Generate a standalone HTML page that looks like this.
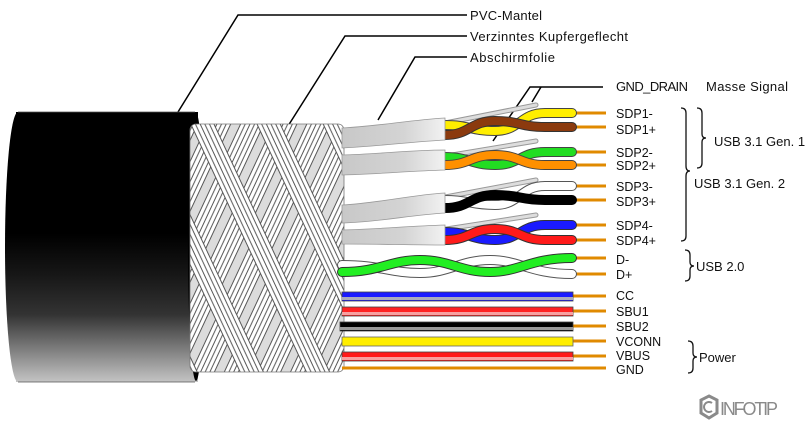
<!DOCTYPE html>
<html><head><meta charset="utf-8"><style>
html,body{margin:0;padding:0;background:#fff}
svg{display:block}
text{font-family:"Liberation Sans Narrow","Liberation Sans",sans-serif;fill:#111}
</style></head><body>
<svg width="810" height="422" viewBox="0 0 810 422" xmlns="http://www.w3.org/2000/svg">
<defs>
<linearGradient id="jk" x1="0" y1="0" x2="0" y2="1">
<stop offset="0" stop-color="#000"/><stop offset="0.45" stop-color="#000"/><stop offset="0.6" stop-color="#161616"/><stop offset="0.75" stop-color="#333"/><stop offset="1" stop-color="#c4c4c4"/></linearGradient>
<linearGradient id="foil" x1="0" y1="0" x2="1" y2="0">
<stop offset="0" stop-color="#c8c8c8"/><stop offset="0.6" stop-color="#d4d4d4"/><stop offset="1" stop-color="#f2f2f2"/></linearGradient>
<pattern id="bA" width="30" height="30" patternUnits="userSpaceOnUse" patternTransform="rotate(25)">
<rect x="0" y="0" width="22" height="30" fill="#fff"/>
<g stroke="#444" stroke-width="0.9"><line x1="0.5" y1="0" x2="0.5" y2="30"/><line x1="4.7" y1="0" x2="4.7" y2="30"/><line x1="9" y1="0" x2="9" y2="30"/><line x1="13.2" y1="0" x2="13.2" y2="30"/><line x1="17.4" y1="0" x2="17.4" y2="30"/><line x1="21.5" y1="0" x2="21.5" y2="30"/></g>
</pattern>
<pattern id="bB" width="60" height="30" patternUnits="userSpaceOnUse" patternTransform="rotate(-25)">
<rect x="0" y="0" width="22" height="30" fill="#fff"/>
<g stroke="#444" stroke-width="0.9"><line x1="0.5" y1="0" x2="0.5" y2="30"/><line x1="4.7" y1="0" x2="4.7" y2="30"/><line x1="9" y1="0" x2="9" y2="30"/><line x1="13.2" y1="0" x2="13.2" y2="30"/><line x1="17.4" y1="0" x2="17.4" y2="30"/><line x1="21.5" y1="0" x2="21.5" y2="30"/></g>
</pattern>
<clipPath id="bc"><rect x="190" y="124" width="154" height="248" rx="6"/></clipPath>
</defs>

<g stroke="#000" stroke-width="1.5" fill="none">
<polyline points="178,112 238,15 467,15"/>
<polyline points="288,126 345,36 467,36"/>
<polyline points="378,120 415,57 467,57"/>
<polyline points="493,141 530,87 603,87"/>
<line x1="532" y1="102" x2="541" y2="87"/>
</g>

<rect x="16" y="112" width="182" height="270" fill="url(#jk)"/>
<ellipse cx="18" cy="247" rx="13" ry="135" fill="url(#jk)"/>
<path d="M18,112 L195,112 M18,382 L195,382" stroke="#555" stroke-width="0.8"/>
<ellipse cx="196" cy="247" rx="8" ry="134" fill="#000"/>

<g clip-path="url(#bc)">
<rect x="185" y="120" width="165" height="260" fill="#dcdcdc"/>
<rect x="185" y="120" width="165" height="260" fill="url(#bA)"/>
<rect x="185" y="120" width="165" height="260" fill="url(#bB)"/>
</g>
<rect x="190" y="124" width="154" height="248" rx="6" fill="none" stroke="#777" stroke-width="0.8"/>

<g stroke="#999" stroke-width="5" stroke-linecap="round"><line x1="440" y1="124" x2="536" y2="105"/><line x1="440" y1="157" x2="536" y2="141"/><line x1="440" y1="198" x2="536" y2="180"/><line x1="440" y1="230" x2="536" y2="215"/></g>
<g stroke="#ddd" stroke-width="3" stroke-linecap="round"><line x1="440" y1="124" x2="536" y2="105"/><line x1="440" y1="157" x2="536" y2="141"/><line x1="440" y1="198" x2="536" y2="180"/><line x1="440" y1="230" x2="536" y2="215"/></g>

<g stroke="#e08a00" stroke-width="3">
<line x1="570" y1="113" x2="606" y2="113"/><line x1="570" y1="127" x2="606" y2="127"/>
<line x1="570" y1="152" x2="606" y2="152"/><line x1="570" y1="165" x2="606" y2="165"/>
<line x1="570" y1="186" x2="606" y2="186"/><line x1="570" y1="200" x2="606" y2="200"/>
<line x1="570" y1="225" x2="606" y2="225"/><line x1="570" y1="240" x2="606" y2="240"/>
<line x1="570" y1="258" x2="606" y2="258"/><line x1="570" y1="274" x2="606" y2="274"/>
<line x1="570" y1="296" x2="606" y2="296"/><line x1="570" y1="311" x2="606" y2="311"/>
<line x1="570" y1="326" x2="606" y2="326"/><line x1="570" y1="341" x2="606" y2="341"/>
<line x1="570" y1="356" x2="606" y2="356"/><line x1="342" y1="368" x2="606" y2="368"/>
</g>

<g fill="none" stroke-linecap="round">
<path d="M445,125 C470,125 470,131 495,131 C520,131 520,113 545,113 L572,113" stroke="#444" stroke-width="10"/>
<path d="M445,125 C470,125 470,131 495,131 C520,131 520,113 545,113 L572,113" stroke="#ffee00" stroke-width="8"/>
<path d="M445,135 C470,135 470,121 495,121 C520,121 520,127 545,127 L572,127" stroke="#333" stroke-width="10"/>
<path d="M445,135 C470,135 470,121 495,121 C520,121 520,127 545,127 L572,127" stroke="#8b3a0e" stroke-width="8"/>
<path d="M445,157 C470,157 470,165 495,165 C520,165 520,152 545,152 L572,152" stroke="#444" stroke-width="10"/>
<path d="M445,157 C470,157 470,165 495,165 C520,165 520,152 545,152 L572,152" stroke="#22dd22" stroke-width="8"/>
<path d="M445,165 C470,165 470,155 495,155 C520,155 520,165 545,165 L572,165" stroke="#444" stroke-width="10"/>
<path d="M445,165 C470,165 470,155 495,155 C520,155 520,165 545,165 L572,165" stroke="#ff9000" stroke-width="8"/>
<path d="M445,200 C470,200 470,205 495,205 C520,205 520,186 545,186 L572,186" stroke="#555" stroke-width="10"/>
<path d="M445,200 C470,200 470,205 495,205 C520,205 520,186 545,186 L572,186" stroke="#fff" stroke-width="8"/>
<path d="M445,208 C470,208 470,195 495,195 C520,195 520,200 545,200 L572,200" stroke="#000" stroke-width="10"/>
<path d="M445,232 C470,232 470,240 495,240 C520,240 520,225 545,225 L572,225" stroke="#333" stroke-width="10"/>
<path d="M445,232 C470,232 470,240 495,240 C520,240 520,225 545,225 L572,225" stroke="#1a1aff" stroke-width="8"/>
<path d="M445,240 C470,240 470,229 495,229 C520,229 520,240 545,240 L572,240" stroke="#333" stroke-width="10"/>
<path d="M445,240 C470,240 470,229 495,229 C520,229 520,240 545,240 L572,240" stroke="#ff1a1a" stroke-width="8"/>
<path d="M342,265 C380,265 390,273 420,273 C450,273 460,260 490,260 C520,260 530,274 572,274" stroke="#555" stroke-width="10"/>
<path d="M342,265 C380,265 390,273 420,273 C450,273 460,260 490,260 C520,260 530,274 572,274" stroke="#fff" stroke-width="8"/>
<path d="M342,272 C380,272 390,260 420,260 C450,260 460,272 490,272 C520,272 530,258 572,258" stroke="#333" stroke-width="10"/>
<path d="M342,272 C380,272 390,260 420,260 C450,260 460,272 490,272 C520,272 530,258 572,258" stroke="#22ee22" stroke-width="8"/>
</g>

<g fill="url(#foil)" stroke="#999" stroke-width="0.8">
<path d="M342,128 C380,126 410,120 445,118 L445,140 C410,142 380,146 342,148 Z"/>
<path d="M342,155 C380,154 410,150 445,150 L445,170 C410,171 380,174 342,175 Z"/>
<path d="M342,205 C380,203 410,195 445,193 L445,213 C410,215 380,222 342,223 Z"/>
<path d="M342,230 C380,229 410,226 445,225 L445,245 C410,245 380,244 342,244 Z"/>
</g>

<g>
<rect x="342" y="292" width="231" height="9" fill="#1a1aff" stroke="#444" stroke-width="0.8"/><rect x="342" y="297" width="231" height="3" fill="#aab"/>
<rect x="342" y="307" width="231" height="9" fill="#ff2222" stroke="#444" stroke-width="0.8"/><rect x="342" y="312" width="231" height="3" fill="#f8a0a0"/>
<rect x="340" y="322" width="233" height="9" fill="#000" stroke="#444" stroke-width="0.8"/><rect x="340" y="327" width="233" height="3" fill="#999"/>
<rect x="342" y="337" width="231" height="9" fill="#ffee00" stroke="#666" stroke-width="0.8"/>
<rect x="342" y="352" width="231" height="9" fill="#ff1a1a" stroke="#444" stroke-width="0.8"/><rect x="342" y="357" width="231" height="3" fill="#f8a0a0"/>
</g>

<g font-size="13">
<text x="470" y="20" textLength="72">PVC-Mantel</text>
<text x="470" y="41" textLength="158">Verzinntes Kupfergeflecht</text>
<text x="470" y="62" textLength="85">Abschirmfolie</text>
<text x="616" y="91" textLength="72">GND_DRAIN</text>
<text x="706" y="91" textLength="82">Masse Signal</text>
</g>
<g font-size="12.5">
<text x="616" y="118">SDP1-</text><text x="616" y="134">SDP1+</text>
<text x="616" y="157">SDP2-</text><text x="616" y="170">SDP2+</text>
<text x="616" y="191">SDP3-</text><text x="616" y="206">SDP3+</text>
<text x="616" y="230">SDP4-</text><text x="616" y="245">SDP4+</text>
<text x="616" y="264">D-</text><text x="616" y="279">D+</text>
<text x="616" y="300">CC</text><text x="616" y="316">SBU1</text>
<text x="616" y="331">SBU2</text><text x="616" y="346">VCONN</text>
<text x="616" y="360">VBUS</text><text x="616" y="374">GND</text>
</g>
<g font-size="13">
<text x="714" y="146">USB 3.1 Gen. 1</text>
<text x="694" y="188">USB 3.1 Gen. 2</text>
<text x="696" y="271">USB 2.0</text>
<text x="699" y="362">Power</text>
</g>

<g fill="none" stroke="#111" stroke-width="1.3">
<path d="M681,108 Q686,108 686,113 L686,166 Q686,171 690,171 Q686,171 686,176 L686,236 Q686,241 681,241"/>
<path d="M697,108 Q702,108 702,113 L702,134 Q702,138 706,138 Q702,138 702,142 L702,163 Q702,168 697,168"/>
<path d="M685,250 Q690,250 690,255 L690,262 Q690,266 694,266 Q690,266 690,270 L690,276 Q690,281 685,281"/>
<path d="M688,341 Q693,341 693,346 L693,353 Q693,357 697,357 Q693,357 693,361 L693,368 Q693,373 688,373"/>
</g>

<path d="M709,396 L717,400 L717,413 L709,418 L701,413 L701,400 Z" fill="none" stroke="#8a8a8a" stroke-width="3"/>
<path d="M712,403 A5,5 0 1 0 712,411" fill="none" stroke="#8a8a8a" stroke-width="2"/>
<text x="720" y="415" font-size="18" style="fill:#8a8a8a" textLength="58">INFOTIP</text>
</svg>
</body></html>
